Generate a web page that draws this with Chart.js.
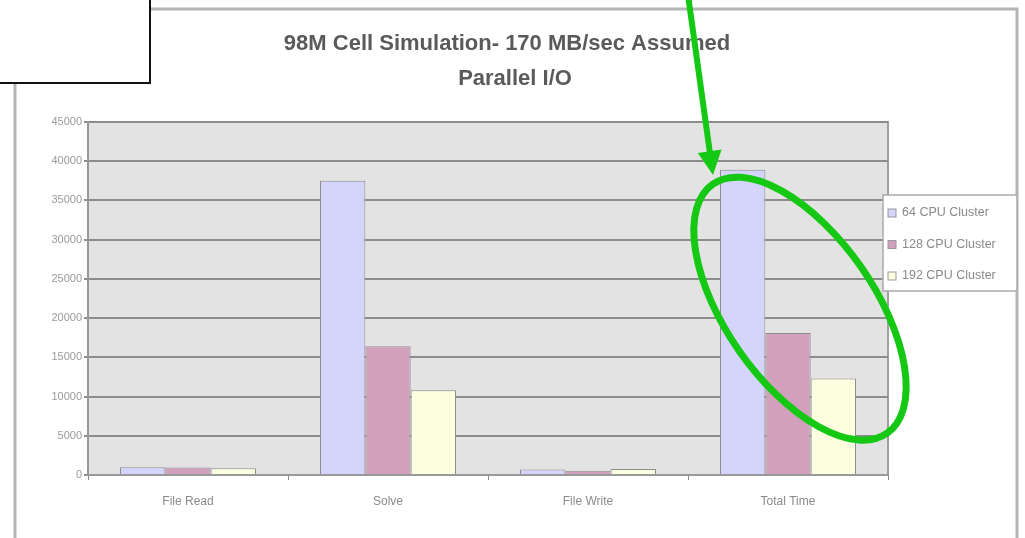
<!DOCTYPE html>
<html>
<head>
<meta charset="utf-8">
<script src="https://cdn.jsdelivr.net/npm/chart.js@4.4.1/dist/chart.umd.min.js"></script>
<style>
  html, body { margin: 0; padding: 0; background: #fff; }
  #wrap { width: 1025px; height: 538px; position: relative; }
</style>
</head>
<body>
<div id="wrap"><canvas id="simChart"></canvas></div>
<script>
// DADOS
const categories = ['File Read', 'Solve', 'File Write', 'Total Time'];
const seriesNames = ['64 CPU Cluster', '128 CPU Cluster', '192 CPU Cluster'];
const cpu64 = [1000, 37500, 700, 38900];
const cpu128 = [950, 16400, 550, 18100];
const cpu192 = [850, 10800, 750, 12300];
const yTicks = [0, 5000, 10000, 15000, 20000, 25000, 30000, 35000, 40000, 45000];
const titleLines = ['98M Cell Simulation- 170 MB/sec Assumed', 'Parallel I/O'];

const barColors = ['#d4d4fc', '#d2a0bd', '#fdfde0'];
const greenMark = '#14c814';

// FUNDO, MOLDURA E ANOTACOES
const decor = {
    id: 'decor',
    beforeDraw(chart) {
        const ctx = chart.ctx;
        const a = chart.chartArea;
        ctx.save();
        ctx.fillStyle = '#fff';
        ctx.fillRect(0, 0, chart.width, chart.height);
        // moldura externa
        ctx.strokeStyle = '#b4b4b4';
        ctx.lineWidth = 3;
        ctx.strokeRect(15, 9, 1002, 540);
        // titulo
        ctx.fillStyle = '#5a5a5a';
        ctx.font = 'bold 22px "Liberation Sans", Arial, sans-serif';
        ctx.textAlign = 'center';
        ctx.textBaseline = 'middle';
        ctx.fillText(titleLines[0], 507, 44);
        ctx.fillText(titleLines[1], 515, 79);
        // area do grafico
        ctx.fillStyle = '#e3e3e3';
        ctx.fillRect(a.left, a.top, a.right - a.left, a.bottom - a.top);
        ctx.strokeStyle = '#a0a0a0';
        ctx.lineWidth = 2;
        ctx.strokeRect(a.left, a.top, a.right - a.left, a.bottom - a.top);
        ctx.restore();
    },
    afterDraw(chart) {
        const ctx = chart.ctx;
        const x = chart.scales.x;
        const y = chart.scales.y;
        ctx.save();

        // legenda
        const lx = 883, ly = 195;
        ctx.fillStyle = '#fff';
        ctx.fillRect(lx, ly, 134, 96);
        ctx.strokeStyle = '#aaaaaa';
        ctx.lineWidth = 1.5;
        ctx.strokeRect(lx, ly, 134, 96);
        ctx.beginPath();
        ctx.rect(lx, ly, 133, 96);
        ctx.clip();
        ctx.font = '12.5px "Liberation Sans", Arial, sans-serif';
        ctx.textBaseline = 'middle';
        chart.data.datasets.forEach((ds, i) => {
            const yy = ly + 18 + i * 31.5;
            ctx.fillStyle = ds.backgroundColor;
            ctx.fillRect(lx + 5, yy - 4, 8, 8);
            ctx.strokeStyle = '#999';
            ctx.lineWidth = 1;
            ctx.strokeRect(lx + 5, yy - 4, 8, 8);
            ctx.fillStyle = '#8a8a8a';
            ctx.fillText(ds.label, lx + 19, yy);
        });
        ctx.restore();
        ctx.save();

        // caixa preta no canto
        ctx.fillStyle = '#fff';
        ctx.fillRect(0, 0, 150, 83);
        ctx.strokeStyle = '#111';
        ctx.lineWidth = 2;
        ctx.strokeRect(-2, -2, 152, 85);

        // elipse verde em volta do Total Time
        const cx = x.getPixelForValue(3) + 12;
        const cy = y.getPixelForValue(21200);
        ctx.strokeStyle = greenMark;
        ctx.lineWidth = 7;
        ctx.beginPath();
        ctx.ellipse(cx, cy, 152, 74, 55 * Math.PI / 180, 0, Math.PI * 2);
        ctx.stroke();

        // seta verde
        const tipX = 713, tipY = 175;
        const fromX = 688, fromY = -5;
        const ang = Math.atan2(tipY - fromY, tipX - fromX);
        ctx.lineWidth = 6;
        ctx.beginPath();
        ctx.moveTo(fromX, fromY);
        ctx.lineTo(tipX - 20 * Math.cos(ang), tipY - 20 * Math.sin(ang));
        ctx.stroke();
        ctx.fillStyle = greenMark;
        ctx.beginPath();
        ctx.moveTo(tipX, tipY);
        ctx.lineTo(tipX - 24 * Math.cos(ang) + 12 * Math.sin(ang), tipY - 24 * Math.sin(ang) - 12 * Math.cos(ang));
        ctx.lineTo(tipX - 24 * Math.cos(ang) - 12 * Math.sin(ang), tipY - 24 * Math.sin(ang) + 12 * Math.cos(ang));
        ctx.closePath();
        ctx.fill();
        ctx.restore();
    }
};

// GRAFICO
const simChart = new Chart(
    document.getElementById('simChart'),
    {
        type: 'bar',
        data: {
            labels: categories,
            datasets: [cpu64, cpu128, cpu192].map((vals, i) => ({
                label: seriesNames[i],
                data: vals,
                backgroundColor: barColors[i],
                borderColor: '#8e8e8e',
                borderWidth: 1,
                categoryPercentage: 0.68,
                barPercentage: 1
            }))
        },
        options: {
            responsive: true,
            maintainAspectRatio: false,
            animation: false,
            layout: { padding: { left: 20, right: 137, top: 122, bottom: 0 } },
            plugins: {
                legend: { display: false },
                tooltip: { enabled: false },
                title: { display: false }
            },
            scales: {
                x: {
                    offset: true,
                    grid: { display: true, drawOnChartArea: false, drawTicks: true, tickLength: 5, color: '#888', offset: true },
                    border: { display: true, color: '#999', width: 2 },
                    ticks: {
                        color: '#8a8a8a',
                        padding: 14,
                        font: { family: '"Liberation Sans Narrow", "Liberation Sans", Arial, sans-serif', size: 12 }
                    },
                    afterFit: s => { s.height = 63; }
                },
                y: {
                    min: 0,
                    max: 45000,
                    afterBuildTicks: s => { s.ticks = yTicks.map(v => ({ value: v })); },
                    grid: { color: '#8c8c8c', lineWidth: 2, drawTicks: true, tickLength: 4 },
                    border: { display: true, color: '#999', width: 2 },
                    ticks: {
                        color: '#9a9a9a',
                        padding: 2,
                        callback: v => String(v),
                        font: { family: '"Liberation Sans Narrow", "Liberation Sans", Arial, sans-serif', size: 11 }
                    },
                    afterFit: s => { s.width = 68; }
                }
            }
        },
        plugins: [decor]
    }
);
</script>
</body>
</html>
